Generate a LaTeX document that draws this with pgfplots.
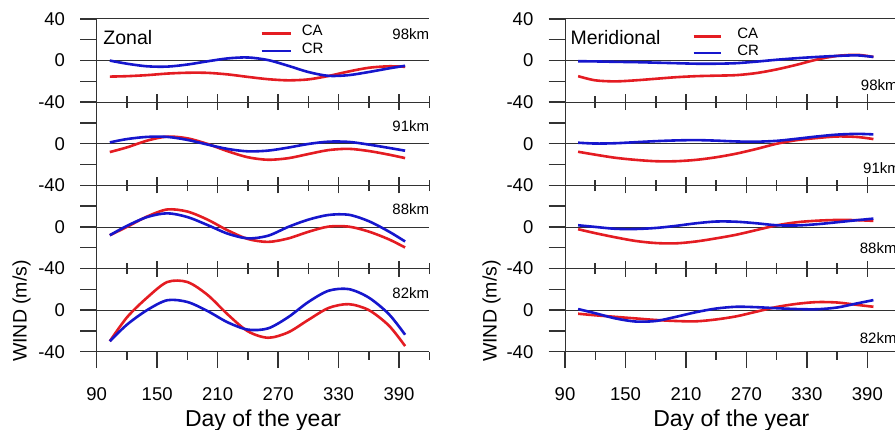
\documentclass[border=0pt]{standalone}
\usepackage{fontspec}
\setmainfont{Liberation Sans}
\usepackage{pgfplots}
\usepackage{pgfplotstable}
\pgfplotsset{compat=1.18}
\definecolor{cared}{RGB}{228,28,34}
\definecolor{crblue}{RGB}{22,22,205}
\definecolor{axgray}{RGB}{50,50,50}
\newcommand\tfont{\fontsize{18.5}{18.5}\selectfont}
\newcommand\kfont{\fontsize{15}{15}\selectfont}
\newcommand\lfont{\fontsize{15}{15}\selectfont}
\newcommand\bfont{\fontsize{19.5}{19.5}\selectfont}
\newcommand\xfont{\fontsize{23}{23}\selectfont}

\pgfplotstableread{
day ca98 cr98 ca91 cr91 ca88 cr88 ca82 cr82
103 -15.4 0 -8 1.3 -8 -8 -30 -30
120 -15 -3 -3.5 4.5 0 1 -7 -14
140 -14 -5.5 3 6.6 10 9.5 12 0
160 -12.5 -5.8 6.9 6.6 16.8 13.1 27 9.5
180 -11.7 -3.8 5.2 3.7 14.8 9.5 27 7.8
200 -11.8 -0.7 -0.2 -0.8 7 1.8 14.6 -0.9
220 -13.3 2.1 -7.2 -5 -3.3 -6.5 -4.2 -11.8
240 -15.7 3 -13 -7.3 -11.6 -11 -20.4 -18.8
260 -17.9 0.5 -15.4 -6.6 -14.4 -8.5 -26.6 -17.6
280 -19 -5 -13.9 -3.7 -11.1 0 -21.4 -6.8
300 -18.1 -11 -9.9 -0.2 -4.7 7 -9.4 7.8
320 -14.8 -14.7 -6.1 2 0.3 11.5 2 18.6
340 -10.5 -14 -4.9 1.8 0.3 11.7 5.7 20.2
360 -6.9 -11 -7 -0.8 -4.5 5.5 0 12
380 -5.5 -7.5 -10.5 -4 -12 -4.5 -15 -4
396 -6 -5 -13.8 -6.7 -19.8 -14 -34.6 -23.7
}\zonal

\pgfplotstableread{
day ca98 cr98 ca91 cr91 ca88 cr88 ca82 cr82
103 -15 -0.6 -7.7 1 -2.2 1.6 -3.5 1
120 -19 -0.8 -10.5 0.2 -6 0 -5 -3
140 -20 -1.2 -13.5 0.5 -10 -1.8 -6.5 -8
160 -19 -1.5 -15.5 1.5 -13.5 -2 -8 -11
180 -17.5 -2 -16.8 2.5 -15.5 -1 -9.5 -10.5
200 -16 -2.5 -16.8 3.2 -15.8 1 -10.5 -6.5
220 -15 -3 -15.5 3.5 -14 3.5 -10.8 -2
240 -14.5 -3 -13 3 -11 5.2 -9 1.5
260 -14 -2.5 -9.5 2.2 -7.5 5 -6 3.2
280 -12 -1 -5 2 -3 3.5 -1.5 2.8
300 -8.5 0.8 0 2.8 1.5 1.6 3 1.8
320 -4 2.3 3.5 4.8 4.5 1.4 6 1
340 1 3.5 5.5 7 6 2.6 7.7 0.8
360 4.5 4.5 7 8.8 6.7 4.5 7.3 2.5
380 5.5 5 6.5 9.5 6.5 6.5 5 6.5
396 3.5 3.5 4.5 9 5.8 8 3.2 9.6
}\merid

\pgfplotsset{
  sub/.style={
    scale only axis, width=332.6pt, height=83.17pt,
    xmin=90, xmax=420, ymin=-40, ymax=40,
    axis lines*=left,
    axis line style={-, draw=axgray, line width=1pt},
    clip=false,
    xtick=\empty,
    ytick={-40,-20,0,20}, yticklabels={-40,,0,},
    tick style={draw=axgray, line width=1.4pt},
    tick align=outside,
    major tick length=16.5pt, minor tick length=8pt,
    yticklabel style={font=\tfont, inner sep=0pt, xshift=-15pt},
    anchor=north west,
  },
  topsub/.style={ytick={-40,-20,0,20,40}, yticklabels={-40,,0,,40}},
  botsub/.style={
    xtick={90,150,...,390}, minor xtick={120,180,...,420},
    xticklabels={90,150,210,270,330,390},
    xticklabel style={font=\tfont, inner sep=0pt, anchor=north, yshift=-18.8pt},
  },
  ca/.style={cared, line width=2.6pt, smooth},
  cr/.style={crblue, line width=2.6pt, smooth},
  zl/.style={axgray, line width=0.8pt, forget plot},
  tl/.style={axgray, line width=1pt, forget plot},
  tk/.style={axgray, line width=1.6pt, forget plot, unbounded coords=jump},
}
% crossing ticks on the boundary with the panel above (drawn at this panel's top)
\newcommand\topticks{%
  \addplot[tk] coordinates {(150,32.3) (150,47.7) (150,nan) (210,32.3) (210,47.7) (210,nan)
    (270,32.3) (270,47.7) (270,nan) (330,32.3) (330,47.7) (330,nan) (390,32.3) (390,47.7)};
  \addplot[tk] coordinates {(120,34.5) (120,45.5) (120,nan) (180,34.5) (180,45.5) (180,nan)
    (240,34.5) (240,45.5) (240,nan) (300,34.5) (300,45.5) (300,nan) (360,34.5) (360,45.5)
    (360,nan) (420,34.5) (420,45.5)};
}

\begin{document}
\begin{tikzpicture}
% ---------------- Left panel: Zonal ----------------
\begin{axis}[sub, topsub, at={(96.7pt,410pt)},
  legend style={draw=none, fill=none, at={(axis cs:252.3,34.5)}, anchor=north west,
    inner sep=0pt, outer sep=0pt, font=\lfont, row sep=0pt, column sep=10pt,
    nodes={inner sep=0pt, text height=11pt, text depth=6.5pt}},
  legend cell align=left,
  legend image code/.code={\draw[#1] (0pt,0pt) -- (29pt,0pt);}]
\addplot[zl] coordinates {(90,0) (420,0)};
\addplot[tl] coordinates {(90,40) (420,40)};
\addplot[ca] table[x=day,y=ca98]{\zonal}; \addlegendentry{CA}
\addplot[cr] table[x=day,y=cr98]{\zonal}; \addlegendentry{CR}
\node[anchor=base west, font=\bfont, inner sep=0pt] at (axis cs:96.5,15.7) {Zonal};
\node[anchor=base east, font=\kfont, inner sep=0pt] at (axis cs:420,19.8) {98km};
\end{axis}
\begin{axis}[sub, at={(96.7pt,326.83pt)}]
\addplot[zl] coordinates {(90,0) (420,0)};
\topticks
\addplot[ca] table[x=day,y=ca91]{\zonal};
\addplot[cr] table[x=day,y=cr91]{\zonal};
\node[anchor=base east, font=\kfont, inner sep=0pt] at (axis cs:420,11.6) {91km};
\end{axis}
\begin{axis}[sub, at={(96.7pt,243.66pt)}]
\addplot[zl] coordinates {(90,0) (420,0)};
\topticks
\addplot[ca] table[x=day,y=ca88]{\zonal};
\addplot[cr] table[x=day,y=cr88]{\zonal};
\node[anchor=base east, font=\kfont, inner sep=0pt] at (axis cs:420,11.6) {88km};
\end{axis}
\begin{axis}[sub, botsub, at={(96.7pt,160.49pt)}]
\addplot[zl] coordinates {(90,0) (420,0)};
\topticks
\addplot[ca] table[x=day,y=ca82]{\zonal};
\addplot[cr] table[x=day,y=cr82]{\zonal};
\node[anchor=base east, font=\kfont, inner sep=0pt] at (axis cs:420,11.6) {82km};
\end{axis}
% ---------------- Right panel: Meridional ----------------
\begin{axis}[sub, topsub, at={(565pt,410pt)},
  legend style={draw=none, fill=none, at={(axis cs:216.3,31.3)}, anchor=north west,
    inner sep=0pt, outer sep=0pt, font=\lfont, row sep=0pt, column sep=15pt,
    nodes={inner sep=0pt, text height=10.5pt, text depth=6.2pt}},
  legend cell align=left,
  legend image code/.code={\draw[#1] (0pt,0pt) -- (27.4pt,0pt);}]
\addplot[zl] coordinates {(90,0) (420,0)};
\addplot[tl] coordinates {(90,40) (420,40)};
\addplot[ca] table[x=day,y=ca98]{\merid}; \addlegendentry{CA}
\addplot[cr] table[x=day,y=cr98]{\merid}; \addlegendentry{CR}
\node[anchor=base west, font=\bfont, inner sep=0pt] at (axis cs:95.3,15.7) {Meridional};
\node[anchor=base west, font=\kfont, inner sep=0pt] at (axis cs:383.4,-29.2) {98km};
\end{axis}
\begin{axis}[sub, at={(565pt,326.83pt)}]
\addplot[zl] coordinates {(90,0) (420,0)};
\topticks
\addplot[ca] table[x=day,y=ca91]{\merid};
\addplot[cr] table[x=day,y=cr91]{\merid};
\node[anchor=base west, font=\kfont, inner sep=0pt] at (axis cs:385.7,-29) {91km};
\end{axis}
\begin{axis}[sub, at={(565pt,243.66pt)}]
\addplot[zl] coordinates {(90,0) (420,0)};
\topticks
\addplot[ca] table[x=day,y=ca88]{\merid};
\addplot[cr] table[x=day,y=cr88]{\merid};
\node[anchor=base west, font=\kfont, inner sep=0pt] at (axis cs:382.4,-26) {88km};
\end{axis}
\begin{axis}[sub, botsub, at={(565pt,160.49pt)}]
\addplot[zl] coordinates {(90,0) (420,0)};
\topticks
\addplot[ca] table[x=day,y=ca82]{\merid};
\addplot[cr] table[x=day,y=cr82]{\merid};
\node[anchor=base west, font=\kfont, inner sep=0pt] at (axis cs:382.4,-32.3) {82km};
\end{axis}
% axis titles
\node[rotate=90, anchor=base, font=\bfont, inner sep=0pt] at (26.7pt,118pt) {WIND (m/s)};
\node[rotate=90, anchor=base, font=\bfont, inner sep=0pt] at (496.7pt,118pt) {WIND (m/s)};
\node[anchor=base, font=\xfont, inner sep=0pt] at (263pt,2.5pt) {Day of the year};
\node[anchor=base, font=\xfont, inner sep=0pt] at (731.3pt,2.5pt) {Day of the year};
\pgfresetboundingbox
\path[use as bounding box] (0pt,0pt) rectangle (895pt,429pt);
\end{tikzpicture}
\end{document}
